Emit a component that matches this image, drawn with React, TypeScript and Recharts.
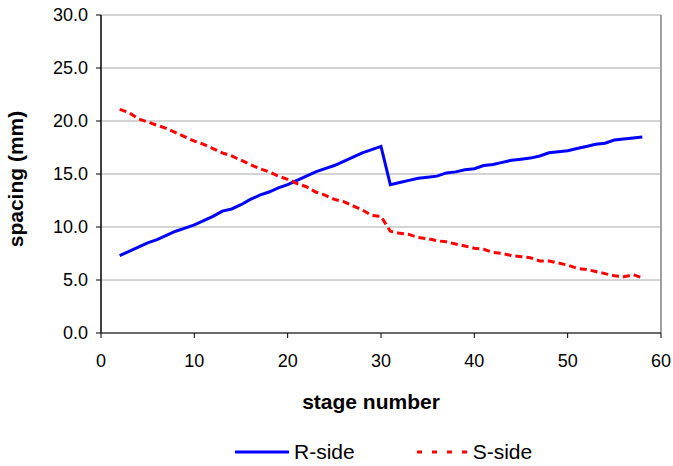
import React from "react";
import {
  LineChart,
  Line,
  XAxis,
  YAxis,
  CartesianGrid,
  Legend,
  ReferenceLine,
  Label,
} from "recharts";

const stages = [
  2, 3, 4, 5, 6, 7, 8, 9, 10, 11, 12, 13, 14, 15, 16, 17, 18, 19, 20, 21, 22,
  23, 24, 25, 26, 27, 28, 29, 30, 31, 32, 33, 34, 35, 36, 37, 38, 39, 40, 41,
  42, 43, 44, 45, 46, 47, 48, 49, 50, 51, 52, 53, 54, 55, 56, 57, 58,
];

const rSide = [
  7.3, 7.7, 8.1, 8.5, 8.8, 9.2, 9.6, 9.9, 10.2, 10.6, 11.0, 11.5, 11.7, 12.1,
  12.6, 13.0, 13.3, 13.7, 14.0, 14.4, 14.8, 15.2, 15.5, 15.8, 16.2, 16.6, 17.0,
  17.3, 17.6, 14.0, 14.2, 14.4, 14.6, 14.7, 14.8, 15.1, 15.2, 15.4, 15.5, 15.8,
  15.9, 16.1, 16.3, 16.4, 16.5, 16.7, 17.0, 17.1, 17.2, 17.4, 17.6, 17.8, 17.9,
  18.2, 18.3, 18.4, 18.5,
];

const sSide = [
  21.1, 20.8, 20.2, 19.9, 19.6, 19.3, 18.9, 18.5, 18.1, 17.8, 17.4, 17.0, 16.7,
  16.3, 15.9, 15.5, 15.2, 14.8, 14.5, 14.1, 13.8, 13.3, 13.0, 12.6, 12.4, 12.0,
  11.6, 11.1, 11.0, 9.6, 9.4, 9.3, 9.0, 8.9, 8.7, 8.6, 8.4, 8.2, 8.0, 7.9, 7.6,
  7.5, 7.3, 7.2, 7.1, 6.8, 6.8, 6.6, 6.4, 6.1, 6.0, 5.8, 5.6, 5.4, 5.3, 5.5, 5.2,
];

const xTicks = [0, 10, 20, 30, 40, 50, 60];
const yTicks = [0, 5, 10, 15, 20, 25, 30];
const seriesNames = ["R-side", "S-side"];

const data = stages.map((stage, i) => ({ stage, r: rSide[i], s: sSide[i] }));

const FONT = "'Liberation Sans', Arial, sans-serif";
const tickStyle = { fontFamily: FONT, fontSize: 18, fill: "#000" };

// legend drawn by hand so the dashed icon looks like the Excel one
const renderLegend = () => (
  <div
    style={{
      display: "flex",
      alignItems: "center",
      fontFamily: FONT,
      fontSize: 21,
      color: "#000",
    }}
  >
    <svg width={59} height={10}>
      <line x1={0} y1={5} x2={54} y2={5} stroke="#0000ff" strokeWidth={3} />
    </svg>
    <span style={{ marginRight: 62 }}>{seriesNames[0]}</span>
    <svg width={56} height={10}>
      <line
        x1={0}
        y1={5}
        x2={55}
        y2={5}
        stroke="#ff0000"
        strokeWidth={3}
        strokeDasharray="5 10"
      />
    </svg>
    <span>{seriesNames[1]}</span>
  </div>
);

export default function App() {
  return (
    <div style={{ position: "absolute", left: 0, top: 0, background: "#fff" }}>
      <LineChart
        width={673}
        height={466}
        data={data}
        margin={{ top: 15, right: 12, left: 0, bottom: 53 }}
      >
        <CartesianGrid vertical={false} stroke="#a8a8a8" strokeWidth={1} />
        <XAxis
          dataKey="stage"
          type="number"
          domain={[0, 60]}
          ticks={xTicks}
          height={80}
          tickSize={5}
          tickMargin={16}
          tick={tickStyle}
          stroke="#000"
          tickLine={{ stroke: "#000" }}
        >
          <Label
            content={({ viewBox }: any) => (
              <text
                x={viewBox.x + viewBox.width / 2 - 10}
                y={viewBox.y + 76}
                textAnchor="middle"
                fontFamily={FONT}
                fontWeight="bold"
                fontSize={21}
                fill="#000"
              >
                stage number
              </text>
            )}
          />
        </XAxis>
        <YAxis
          type="number"
          domain={[0, 30]}
          ticks={yTicks}
          width={101}
          tickSize={5}
          tickMargin={8}
          tick={tickStyle}
          tickFormatter={(v: number) => v.toFixed(1)}
          stroke="#404040"
          strokeWidth={2}
          tickLine={{ stroke: "#000", strokeWidth: 1 }}
        >
          <Label
            content={({ viewBox }: any) => {
              const x = viewBox.x + 23;
              const y = viewBox.y + viewBox.height / 2 + 5;
              return (
                <text
                  x={x}
                  y={y}
                  transform={`rotate(-90, ${x}, ${y})`}
                  textAnchor="middle"
                  fontFamily={FONT}
                  fontWeight="bold"
                  fontSize={21}
                  fill="#000"
                >
                  spacing (mm)
                </text>
              );
            }}
          />
        </YAxis>
        <ReferenceLine x={60} stroke="#a0a0a0" strokeWidth={2} />
        <Line
          type="linear"
          dataKey="r"
          name={seriesNames[0]}
          stroke="#0000ff"
          strokeWidth={3}
          dot={false}
          isAnimationActive={false}
        />
        <Line
          type="linear"
          dataKey="s"
          name={seriesNames[1]}
          stroke="#ff0000"
          strokeWidth={3}
          strokeDasharray="7 4"
          dot={false}
          isAnimationActive={false}
        />
        <Legend
          layout="horizontal"
          verticalAlign="middle"
          align="center"
          content={renderLegend}
          wrapperStyle={{ left: 235, top: 440, width: "auto" }}
        />
      </LineChart>
    </div>
  );
}
